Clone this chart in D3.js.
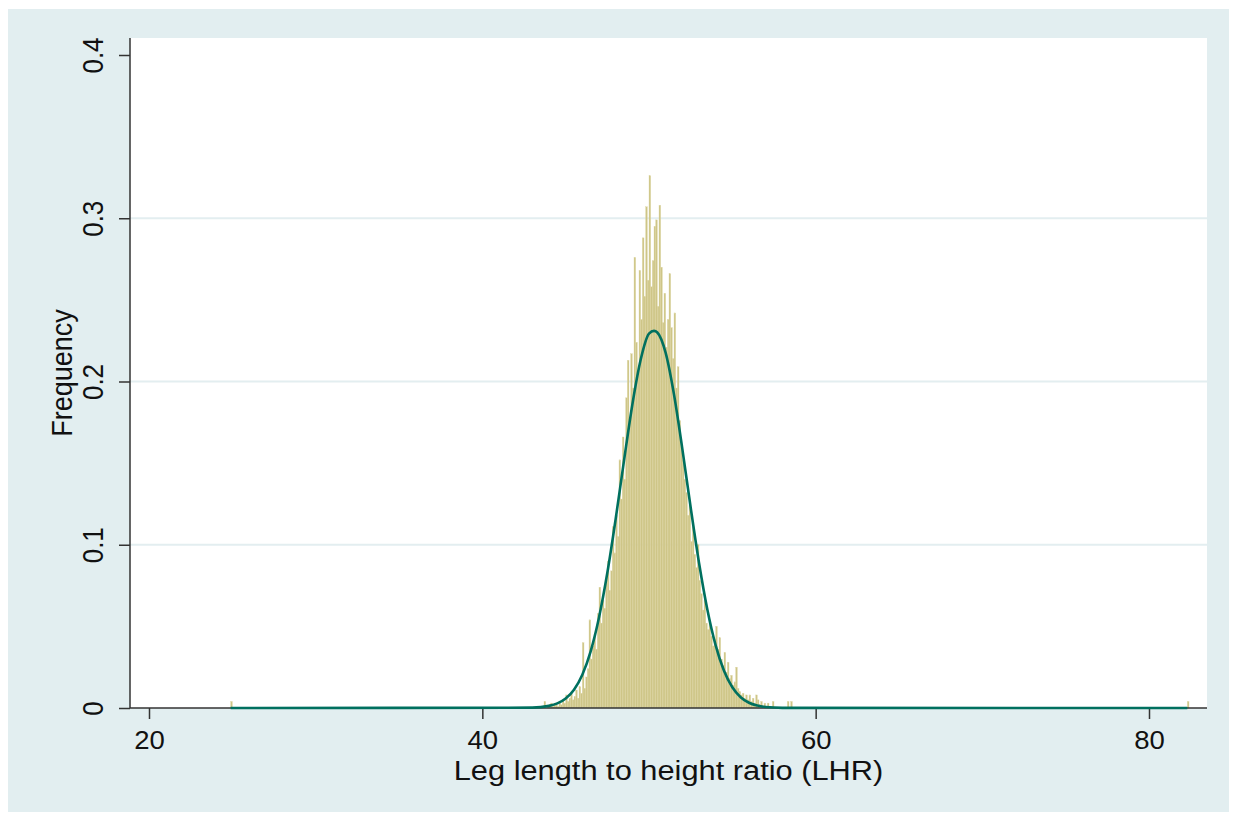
<!DOCTYPE html>
<html>
<head>
<meta charset="utf-8">
<script src="https://cdn.jsdelivr.net/npm/d3@7"></script>
<style>
  body { margin: 0; background: #fff; }
  text { font-family: "Liberation Sans", Arial, sans-serif; fill: #111; }
</style>
</head>
<body>
<div id="viz"></div>
<script>
var width = 1236, height = 815;

// histogram: bins of 0.1 starting at 43.5, heights are densities
var binStart = 43.5, binWidth = 0.1;
var binHeights = [
  0, 0, 0.004, 0, 0.001,
  0.002, 0.003, 0.001, 0.003, 0.002, 0.001, 0.004, 0.002, 0.005, 0.003,
  0.008, 0.004, 0.006, 0.009, 0.005, 0.007, 0.011, 0.006, 0.013, 0.009,
  0.040, 0.012, 0.019, 0.024, 0.054, 0.030, 0.038, 0.045, 0.036, 0.058,
  0.074, 0.052, 0.066, 0.061, 0.078, 0.090, 0.072, 0.084, 0.111, 0.095,
  0.118, 0.105, 0.152, 0.128, 0.166, 0.140, 0.190, 0.213, 0.175, 0.217,
  0.196, 0.276, 0.224, 0.205, 0.268, 0.238, 0.288, 0.252, 0.307, 0.262,
  0.326, 0.258, 0.274, 0.295, 0.299, 0.246, 0.308, 0.270, 0.236, 0.254,
  0.221, 0.238, 0.266, 0.233, 0.214, 0.242, 0.196, 0.209, 0.176, 0.160,
  0.152, 0.140, 0.132, 0.118, 0.124, 0.102, 0.111, 0.094, 0.086, 0.100,
  0.078, 0.070, 0.060, 0.066, 0.052, 0.048, 0.054, 0.044, 0.038, 0.042,
  0.050, 0.036, 0.043, 0.030, 0.026, 0.034, 0.022, 0.028, 0.018, 0.020,
  0.014, 0.016, 0.025, 0.012, 0.010, 0.008, 0.009, 0.006, 0.008, 0.005,
  0.008, 0.004, 0.006, 0.003, 0.008, 0.005, 0.002, 0.004, 0.001, 0.003,
  0, 0.003, 0, 0, 0.004, 0, 0, 0, 0, 0,
  0, 0, 0, 0.004, 0, 0.004
];
// lone observations far in the tails
var outlierX = [24.9, 82.3];
var outlierHeights = [0.004, 0.004];

// overlaid normal curve
var curveX = [24.9, 43.0, 44.0, 44.5, 45.0, 45.5, 46.0, 46.5, 47.0, 47.5, 48.0, 48.5, 49.0, 49.5,
  50.0, 50.3, 50.5, 51.0, 51.5, 52.0, 52.5, 53.0, 53.5, 54.0, 54.5, 55.0, 55.5, 56.0, 56.5, 57.0, 58.0, 82.3];
var curveY = [0, 0.0002, 0.0013, 0.0028, 0.0058, 0.0112, 0.0204, 0.0347, 0.0554, 0.0828, 0.1158, 0.1515, 0.1858, 0.2133,
  0.2293, 0.231, 0.2300, 0.2175, 0.1920, 0.1587, 0.1228, 0.0890, 0.0604, 0.0384, 0.0228, 0.0127, 0.0066, 0.0032, 0.0015, 0.0006, 0.0001, 0];

var xTicks = [20, 40, 60, 80];
var yTicks = [0, 0.1, 0.2, 0.3, 0.4];
var yTickLabels = ["0", "0.1", "0.2", "0.3", "0.4"];
var gridTicks = [0.1, 0.2, 0.3];

var plot = { left: 130, right: 1207, top: 38, bottom: 708 };

var svg = d3.select("#viz").append("svg").attr("width", width).attr("height", height);

// graph region
svg.append("rect")
    .attr("x", 8).attr("y", 9)
    .attr("width", 1221).attr("height", 803)
    .style("fill", "#e2eef0");

svg.append("rect")
    .attr("x", plot.left).attr("y", plot.top)
    .attr("width", plot.right - plot.left).attr("height", plot.bottom - plot.top)
    .style("fill", "#fff");

var x = d3.scaleLinear().domain([20, 80]).range([149, 1149]);
var y = d3.scaleLinear().domain([0, 0.4]).range([708, 55]);

// grid
svg.append("g").selectAll("line")
  .data(gridTicks)
  .enter().append("line")
    .attr("x1", plot.left).attr("x2", plot.right)
    .attr("y1", function(d) { return y(d); })
    .attr("y2", function(d) { return y(d); })
    .style("stroke", "#e3eef0")
    .style("stroke-width", 2);

// bars
var bins = binHeights.map(function(h, i) { return { x0: binStart + i * binWidth, h: h }; })
  .concat(outlierX.map(function(v, i) { return { x0: v, h: outlierHeights[i] }; }))
  .filter(function(d) { return d.h > 0; });

svg.append("g").selectAll("rect")
  .data(bins)
  .enter().append("rect")
    .attr("x", function(d) { return x(d.x0); })
    .attr("width", function(d) { return x(d.x0 + binWidth) - x(d.x0); })
    .attr("y", function(d) { return y(d.h); })
    .attr("height", function(d) { return y(0) - y(d.h); })
    .style("fill", "#cec587")
    .style("stroke", "#ddd5a2")
    .style("stroke-width", 0.35);

// axes
var yAxis = d3.axisLeft(y)
    .tickValues(yTicks)
    .tickFormat(function(d, i) { return yTickLabels[i]; })
    .tickSize(11)
    .tickSizeOuter(0);

var gy = svg.append("g")
    .attr("transform", "translate(" + plot.left + ",0)")
    .call(yAxis);
gy.select(".domain").remove();
gy.selectAll("line").style("stroke", "#333").style("stroke-width", 1.5);
gy.selectAll("text")
    .attr("x", null).attr("dy", null)
    .attr("transform", "translate(-27,0) scale(1.1,1) rotate(-90)")
    .style("text-anchor", "middle")
    .style("font-size", "26px")
    .style("fill", "#111");

var xAxis = d3.axisBottom(x)
    .tickValues(xTicks)
    .tickSize(11)
    .tickSizeOuter(0);

var gx = svg.append("g")
    .attr("transform", "translate(0," + plot.bottom + ")")
    .call(xAxis);
gx.select(".domain").remove();
gx.selectAll("line").style("stroke", "#333").style("stroke-width", 1.5);
gx.selectAll("text")
    .attr("y", null).attr("dy", null)
    .attr("transform", "translate(0,41) scale(1.1,1)")
    .style("font-size", "25px")
    .style("fill", "#111");

svg.append("line")
    .attr("x1", plot.left).attr("x2", plot.left)
    .attr("y1", plot.top).attr("y2", plot.bottom)
    .style("stroke", "#333").style("stroke-width", 1.5);
svg.append("line")
    .attr("x1", plot.left).attr("x2", plot.right)
    .attr("y1", plot.bottom).attr("y2", plot.bottom)
    .style("stroke", "#333").style("stroke-width", 1.5);

// normal curve
var line = d3.line()
    .x(function(d) { return x(d[0]); })
    .y(function(d) { return y(d[1]); })
    .curve(d3.curveMonotoneX);

svg.append("path")
    .datum(curveX.map(function(v, i) { return [v, curveY[i]]; }))
    .attr("d", line)
    .style("fill", "none")
    .style("stroke", "#00705f")
    .style("stroke-width", 2.6);

// titles
svg.append("text")
    .attr("transform", "translate(" + ((plot.left + plot.right) / 2) + ",780) scale(1.1,1)")
    .style("text-anchor", "middle")
    .style("font-size", "28px")
    .text("Leg length to height ratio (LHR)");

svg.append("text")
    .attr("transform", "translate(72," + ((plot.top + plot.bottom) / 2) + ") scale(1.1,1) rotate(-90)")
    .style("text-anchor", "middle")
    .style("font-size", "27px")
    .text("Frequency");
</script>
</body>
</html>
